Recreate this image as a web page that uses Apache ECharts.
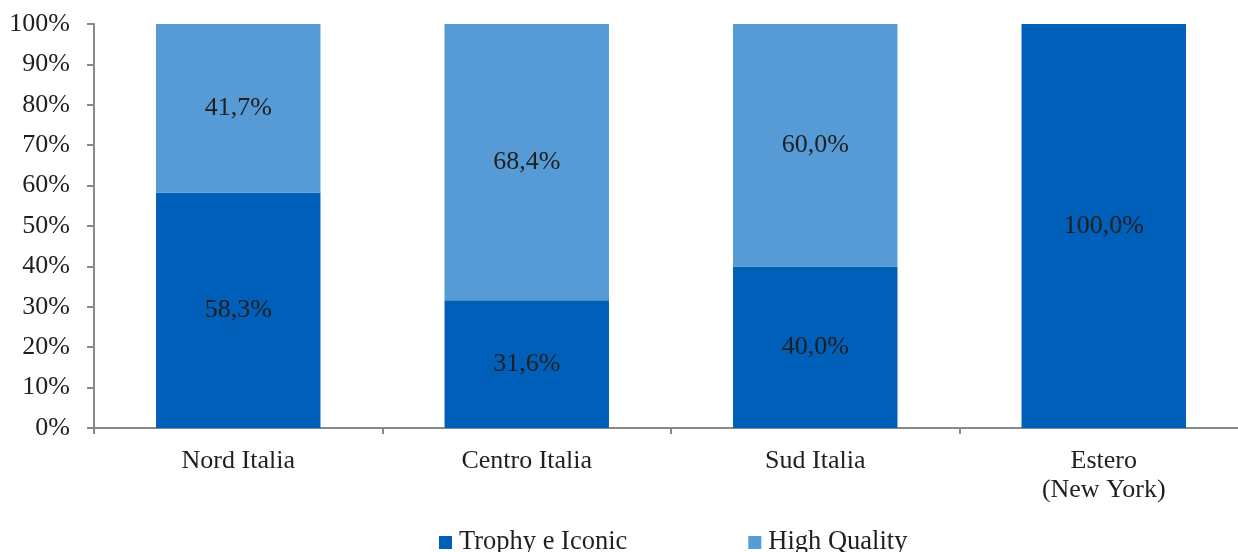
<!DOCTYPE html>
<html>
<head>
<meta charset="utf-8">
<script src="https://cdn.jsdelivr.net/npm/echarts@6/dist/echarts.min.js"></script>
<style>
  html, body { margin: 0; padding: 0; background: #fff; overflow: hidden; }
  /* the plot area runs slightly past the right edge of the page */
  #chart { width: 1248px; height: 552px; }
</style>
</head>
<body>
<div id="chart"></div>
<script>
// Distribuzione per area geografica (quote percentuali)
const categories = ['Nord Italia', 'Centro Italia', 'Sud Italia', 'Estero\n(New York)'];
const trophyIconic = [58.3, 31.6, 40.0, 100.0];
const highQuality = [41.7, 68.4, 60.0, null];
const seriesNames = ['Trophy e Iconic', 'High Quality'];
const yTicks = [0, 10, 20, 30, 40, 50, 60, 70, 80, 90, 100];

const FONT = '"Liberation Serif", "DejaVu Serif", serif';
const TEXT = '#1f1f1f';
const AXIS = '#888888';
const FS = 26;

const fmt = v => v.toFixed(1).replace('.', ',') + '%';

const chart = echarts.init(document.getElementById('chart'), null, { renderer: 'canvas' });

chart.setOption({
  animation: false,
  grid: { left: 94, right: 0, top: 24, height: 404, containLabel: false },
  legend: {
    data: seriesNames,
    left: 439,
    top: 529,
    padding: 0,
    itemWidth: 13,
    itemHeight: 13,
    itemGap: 121,
    icon: 'rect',
    textStyle: { fontFamily: FONT, fontSize: 26.5, color: TEXT, padding: [0, 0, 0, 2] }
  },
  xAxis: {
    type: 'category',
    data: categories,
    axisLine: { lineStyle: { color: AXIS, width: 2 } },
    axisTick: { show: true, alignWithLabel: false, length: 6, lineStyle: { color: AXIS, width: 2 } },
    axisLabel: { fontFamily: FONT, fontSize: FS, color: TEXT, margin: 19, lineHeight: 29 }
  },
  yAxis: {
    type: 'value',
    min: yTicks[0],
    max: yTicks[yTicks.length - 1],
    interval: 10,
    splitLine: { show: false },
    axisLine: { show: true, lineStyle: { color: AXIS, width: 2 } },
    axisTick: { show: true, length: 7, lineStyle: { color: AXIS, width: 2 } },
    axisLabel: {
      fontFamily: FONT, fontSize: FS, color: TEXT, margin: 24,
      formatter: v => v + '%'
    }
  },
  series: [
    {
      name: seriesNames[0],
      type: 'bar',
      stack: 'tot',
      barWidth: '57%',
      data: trophyIconic,
      itemStyle: { color: '#005FB8' },
      label: {
        show: true, position: 'inside',
        fontFamily: FONT, fontSize: FS, color: TEXT,
        formatter: p => fmt(p.value)
      }
    },
    {
      name: seriesNames[1],
      type: 'bar',
      stack: 'tot',
      barWidth: '57%',
      data: highQuality,
      itemStyle: { color: '#569BD5' },
      label: {
        show: true, position: 'inside',
        fontFamily: FONT, fontSize: FS, color: TEXT,
        formatter: p => (p.value == null ? '' : fmt(p.value))
      }
    }
  ]
});
</script>
</body>
</html>
